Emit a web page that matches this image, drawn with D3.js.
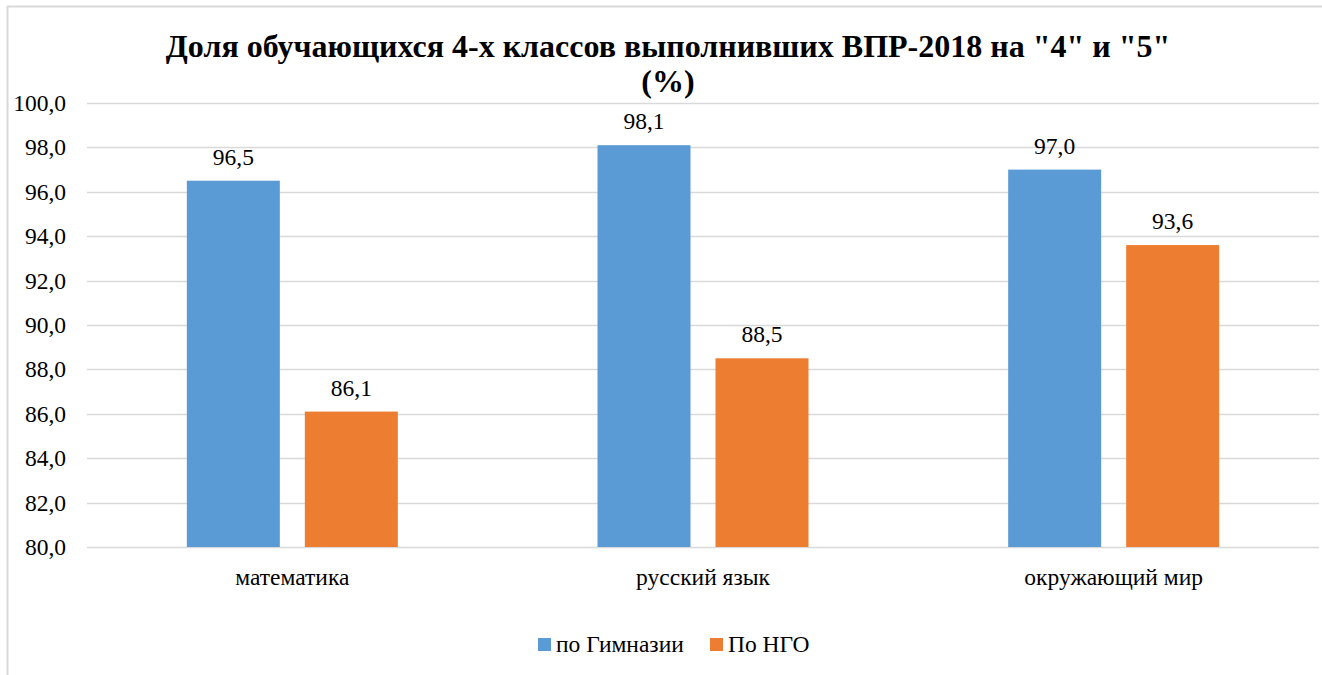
<!DOCTYPE html>
<html><head><meta charset="utf-8">
<script src="https://cdn.jsdelivr.net/npm/d3@7"></script>
<style>
#chart text { font-family: "Liberation Serif", "Times New Roman", Tinos, serif; }
</style>
</head><body style="margin:0;background:#fff">
<svg id="chart" width="1322" height="675" style="display:block"></svg>
<script>
const categories = ["математика", "русский язык", "окружающий мир"];
const seriesNames = ["по Гимназии", "По НГО"];
const gymnasium = [96.5, 98.1, 97.0];
const ngo = [86.1, 88.5, 93.6];
const yTicks = [80, 82, 84, 86, 88, 90, 92, 94, 96, 98, 100];
const colors = ["#5B9BD5", "#ED7D31"];

(function () {
const FONT = "'Liberation Serif', 'Times New Roman', serif";
const svg = d3.select("#chart");
// outer border (chart frame, clipped by the page)
svg.append("line").attr("x1",7.5).attr("x2",7.5).attr("y1",6).attr("y2",675).attr("stroke","#d9d9d9").attr("stroke-width",2);
svg.append("line").attr("x1",7).attr("x2",1322).attr("y1",6.5).attr("y2",6.5).attr("stroke","#d9d9d9").attr("stroke-width",2);

const pLeft = 87, pRight = 1319, pTop = 103, pBottom = 547;
const x = d3.scaleBand().domain(categories).range([pLeft, pRight]).paddingInner(0).paddingOuter(0);
const y = d3.scaleLinear().domain([80, 100]).range([pBottom, pTop]);
const barW = 93, gap = 25;

// gridlines
svg.append("g").selectAll("line").data(yTicks).join("line")
  .attr("x1", pLeft).attr("x2", pRight)
  .attr("y1", d => Math.round(y(d)) + 0.5).attr("y2", d => Math.round(y(d)) + 0.5)
  .attr("stroke", "#d9d9d9").attr("stroke-width", 1.5);

// y axis labels
const yAxis = d3.axisLeft(y).tickValues(yTicks).tickSize(0).tickPadding(0)
  .tickFormat(d => d3.format(".1f")(d).replace(".", ","));
const ya = svg.append("g").attr("transform", `translate(66,0)`).call(yAxis)
  .attr("font-family", null).attr("font-size", 23.5);
ya.select(".domain").remove();
ya.selectAll("text").style("font-family", FONT).style("font-size", "23.5px").attr("fill", "#000");

const data = categories.map((c, i) => ({c, vals: [gymnasium[i], ngo[i]]}));
const groups = svg.append("g").selectAll("g").data(data).join("g");
groups.each(function(d) {
  const g = d3.select(this);
  const cx = x(d.c) + x.bandwidth() / 2;
  d.vals.forEach((v, j) => {
    const bx = j === 0 ? cx - gap / 2 - barW : cx + gap / 2;
    g.append("rect").attr("x", bx).attr("width", barW)
      .attr("y", y(v)).attr("height", y(80) - y(v)).attr("fill", colors[j]);
    g.append("text").attr("x", bx + barW / 2).attr("y", y(v) - 16)
      .attr("text-anchor", "middle").style("font-size", "23.5px").attr("fill", "#000").style("font-family", FONT)
      .text(d3.format(".1f")(v).replace(".", ","));
  });
});

// x axis labels
const xAxis = d3.axisBottom(x).tickSize(0).tickPadding(0);
const xa = svg.append("g").attr("transform", `translate(0,585)`).call(xAxis)
  .attr("font-family", null).attr("font-size", 23.5);
xa.select(".domain").remove();
xa.selectAll("text").style("font-size", "23.5px").attr("fill", "#000").style("font-family", FONT).attr("dy", 0);

// title
svg.append("text").attr("x", 668).attr("y", 57).attr("text-anchor", "middle").style("font-family", FONT)
  .style("font-size", "32px").attr("font-weight", "bold").text('Доля обучающихся 4-х классов выполнивших ВПР-2018 на "4" и "5"');
svg.append("text").attr("x", 668).attr("y", 92).attr("text-anchor", "middle").style("font-family", FONT)
  .style("font-size", "32px").attr("font-weight", "bold").text('(%)');

// legend
const legendX = [538, 710];
seriesNames.forEach((s, i) => {
  svg.append("rect").attr("x", legendX[i]).attr("y", 638).attr("width", 13).attr("height", 13).attr("fill", colors[i]);
  svg.append("text").attr("x", legendX[i] + 18).attr("y", 652).style("font-size", "23.5px").attr("fill", "#000").style("font-family", FONT).text(s);
});
})();
</script>
</body></html>
